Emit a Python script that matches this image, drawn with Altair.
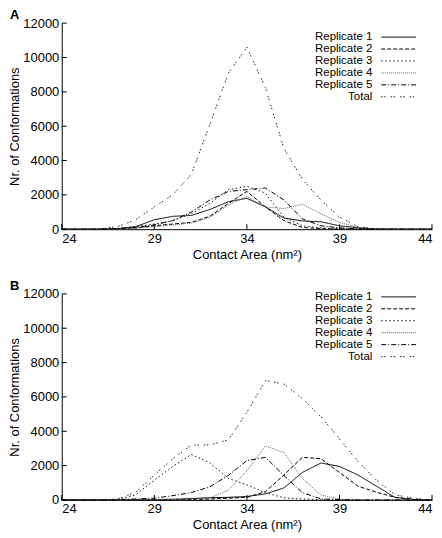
import altair as alt
import pandas as pd

FONT = "Liberation Sans"

contact_area = list(range(24, 45))
series_names = ["Replicate 1", "Replicate 2", "Replicate 3", "Replicate 4", "Replicate 5", "Total"]
x_ticks = [24, 29, 34, 39, 44]
y_ticks = [0, 2000, 4000, 6000, 8000, 10000, 12000]

# Panel A
rep1_a = [0, 0, 0, 30, 150, 550, 750, 800, 1150, 1600, 1800, 1300, 650, 480, 430, 200, 80, 10, 0, 0, 0]
rep2_a = [0, 0, 0, 20, 80, 200, 300, 400, 750, 1500, 2200, 1300, 500, 100, 30, 10, 0, 0, 0, 0, 0]
rep3_a = [0, 0, 10, 50, 150, 300, 500, 900, 1500, 2300, 2500, 2100, 700, 200, 80, 30, 10, 0, 0, 0, 0]
rep4_a = [0, 0, 0, 10, 50, 150, 250, 350, 700, 1400, 1900, 1300, 1200, 1450, 900, 400, 100, 20, 0, 0, 0]
rep5_a = [0, 0, 0, 30, 100, 250, 500, 1000, 1700, 2200, 2300, 2400, 1700, 600, 200, 80, 20, 0, 0, 0, 0]
total_a = [0, 0, 20, 150, 550, 1300, 2000, 3200, 6100, 9100, 10600, 8250, 4700, 2900, 1700, 700, 150, 30, 0, 0, 0]

# Panel B
rep1_b = [0, 0, 0, 0, 10, 20, 40, 80, 130, 150, 200, 350, 700, 1600, 2150, 1950, 1450, 800, 150, 30, 0]
rep2_b = [0, 0, 0, 0, 0, 10, 20, 30, 50, 100, 150, 480, 1450, 2480, 2400, 1600, 800, 450, 150, 30, 0]
rep3_b = [0, 0, 0, 30, 300, 1150, 1950, 2650, 2150, 1250, 880, 420, 120, 50, 20, 0, 0, 0, 0, 0, 0]
rep4_b = [0, 0, 0, 0, 0, 10, 20, 40, 120, 570, 1700, 3140, 2760, 1240, 290, 50, 10, 0, 0, 0, 0]
rep5_b = [0, 0, 0, 20, 60, 100, 250, 430, 760, 1430, 2290, 2480, 1430, 420, 60, 20, 0, 0, 0, 0, 0]
total_b = [0, 0, 0, 50, 450, 1450, 2400, 3200, 3200, 3500, 5100, 6950, 6750, 5900, 4850, 3550, 2250, 1150, 300, 100, 0]

W = 372
H = 207

dash_range = [[1, 0], [4, 2], [1.5, 2.5], [1, 1], [5, 2, 1, 2], [1.5, 1.5, 1.5, 5]]
color_range = ["#000000", "#000000", "#111111", "#666666", "#000000", "#222222"]

dash_scale = alt.Scale(domain=series_names, range=dash_range)
color_scale = alt.Scale(domain=series_names, range=color_range)

x_axis = alt.Axis(values=x_ticks, ticks=False, grid=False, format="d",
                  title="Contact Area (nm²)", labelPadding=3, titlePadding=3)
y_axis = alt.Axis(values=y_ticks, ticks=False, grid=False, format="d",
                  title="Nr. of Conformations", labelPadding=3, titlePadding=1)


def panel(letter, arrays, legend_top):
    rows = []
    for name, vals in zip(series_names, arrays):
        for xv, yv in zip(contact_area, vals):
            rows.append({"series": name, "area": xv, "count": yv})
    df = pd.DataFrame(rows)

    xs = alt.Scale(domain=[24, 44], nice=False, zero=False)
    ys = alt.Scale(domain=[0, 12000], nice=False)

    lines = alt.Chart(df).mark_line(strokeWidth=1).encode(
        x=alt.X("area:Q", scale=xs, axis=x_axis),
        y=alt.Y("count:Q", scale=ys, axis=y_axis),
        strokeDash=alt.StrokeDash("series:N", scale=dash_scale, legend=None),
        color=alt.Color("series:N", scale=color_scale, legend=None),
        order=alt.Order("area:Q"),
    )

    tick_df = pd.DataFrame({"area": x_ticks})
    xtick = alt.Chart(tick_df).mark_rule(color="black", strokeWidth=1).encode(
        x=alt.X("area:Q", scale=xs, axis=x_axis),
        y=alt.value(H), y2=alt.value(H - 5),
    )
    ytick_df = pd.DataFrame({"count": y_ticks})
    ytick = alt.Chart(ytick_df).mark_rule(color="black", strokeWidth=1).encode(
        y=alt.Y("count:Q", scale=ys, axis=y_axis),
        x=alt.value(0), x2=alt.value(5),
    )

    leg_df = pd.DataFrame({"series": series_names, "row": list(range(len(series_names)))})
    leg_text = alt.Chart(leg_df).transform_calculate(
        py=f"{legend_top} + 12 * datum.row"
    ).mark_text(align="right", baseline="middle", fontSize=11.5, font=FONT, color="black").encode(
        x=alt.value(W - 60),
        y=alt.Y("py:Q", scale=None),
        text="series:N",
    )
    leg_rule = alt.Chart(leg_df).transform_calculate(
        py=f"{legend_top} + 12 * datum.row"
    ).mark_rule(strokeWidth=1).encode(
        x=alt.value(W - 51), x2=alt.value(W - 16),
        y=alt.Y("py:Q", scale=None),
        strokeDash=alt.StrokeDash("series:N", scale=dash_scale, legend=None),
        color=alt.Color("series:N", scale=color_scale, legend=None),
    )

    lab = alt.Chart(pd.DataFrame({"t": [letter]})).mark_text(
        fontWeight="bold", fontSize=13, font=FONT, align="left", baseline="alphabetic", color="black"
    ).encode(x=alt.value(-52), y=alt.value(-4), text="t:N")

    return alt.layer(lines, xtick, ytick, leg_rule, leg_text, lab).properties(width=W, height=H)


chart = alt.vconcat(
    panel("A", [rep1_a, rep2_a, rep3_a, rep4_a, rep5_a, total_a], 14),
    panel("B", [rep1_b, rep2_b, rep3_b, rep4_b, rep5_b, total_b], 3),
    spacing=19,
).properties(
    padding={"left": 0, "top": 0, "right": 0, "bottom": 0},
    background="white",
).configure_view(stroke=None).configure_axis(
    labelFont=FONT, titleFont=FONT, labelFontSize=13, titleFontSize=13,
    titleFontWeight="normal", labelColor="black", titleColor="black",
    domainColor="black", domainWidth=1,
)

chart.save("out.html", embed_options={"renderer": "svg", "actions": False})
